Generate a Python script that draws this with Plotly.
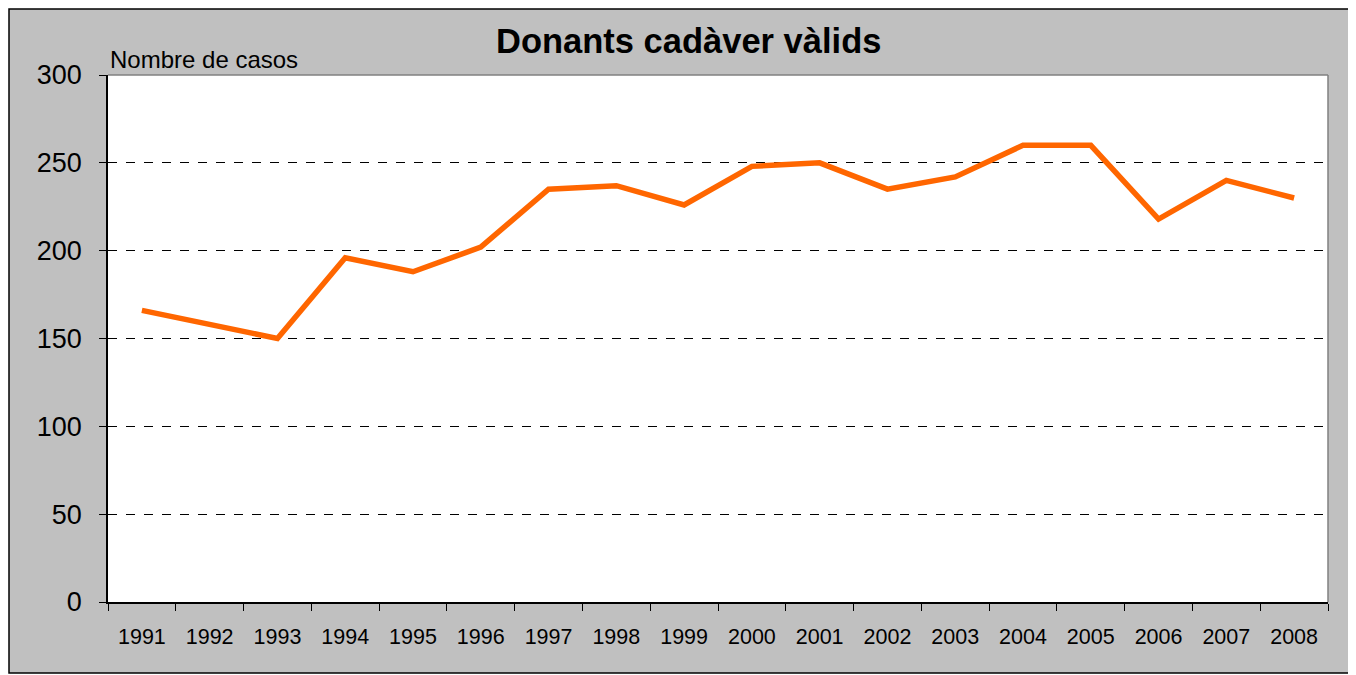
import plotly.graph_objects as go

years = ["1991", "1992", "1993", "1994", "1995", "1996", "1997", "1998", "1999",
         "2000", "2001", "2002", "2003", "2004", "2005", "2006", "2007", "2008"]
donors = [166, 158, 150, 196, 188, 202, 235, 237, 226, 248, 250, 235, 242, 260, 260, 218, 240, 230]
y_ticks = [0, 50, 100, 150, 200, 250, 300]

OFF = 8  # page offset of the figure (body margin)
W, H = 1356 - OFF, 675 - OFF
L, R, T, B = 108 - OFF, 1356 - 1328, 75 - OFF, 675 - 602
pw, ph = W - L - R, H - T - B

def px_x(p):
    return (p - OFF - L) / pw

def px_y(p):
    return (H - B - (p - OFF)) / ph

fig = go.Figure()
fig.add_trace(go.Scatter(
    x=years, y=donors, mode="lines",
    line=dict(color="#FF6600", width=5.5),
    hoverinfo="x+y", showlegend=False,
))

font = "Liberation Sans, Arial, sans-serif"

fig.update_layout(
    width=W, height=H,
    margin=dict(l=L, r=R, t=T, b=B, pad=0),
    paper_bgcolor="white",
    plot_bgcolor="white",
    font=dict(family=font, color="black"),
    xaxis=dict(
        type="category", tickson="boundaries", ticks="outside", ticklen=7,
        tickcolor="black", tickwidth=1, showline=True, linecolor="black", linewidth=1.5,
        showgrid=False, tickfont=dict(size=21.5), ticklabelstandoff=14,
        range=[-0.5, len(years) - 0.5], fixedrange=True,
    ),
    yaxis=dict(
        range=[0, 300], tickvals=y_ticks, ticks="outside", ticklen=7,
        tickcolor="black", tickwidth=1, showline=True, linecolor="black", linewidth=1.5,
        showgrid=True, gridcolor="black", griddash="dash", gridwidth=1,
        zeroline=False, tickfont=dict(size=27), ticklabelstandoff=12, fixedrange=True,
    ),
    shapes=[
        dict(type="rect", xref="paper", yref="paper", layer="below",
             x0=px_x(9), x1=px_x(1370), y0=px_y(673), y1=px_y(9),
             fillcolor="#C0C0C0", line=dict(color="black", width=1.5)),
        dict(type="rect", xref="paper", yref="paper", layer="below",
             x0=0, x1=1, y0=0, y1=1, fillcolor="white", line=dict(width=0)),
        dict(type="line", xref="paper", yref="paper", x0=0, x1=1, y0=1, y1=1,
             line=dict(color="#808080", width=1.5)),
        dict(type="line", xref="paper", yref="paper", x0=1, x1=1, y0=0, y1=1,
             line=dict(color="#808080", width=1.5)),
    ],
    annotations=[
        dict(text="<b>Donants cadàver vàlids</b>", xref="paper", yref="paper",
             x=px_x(688.5), y=px_y(41), xanchor="center", yanchor="middle",
             showarrow=False, font=dict(size=34.5, family=font)),
        dict(text="Nombre de casos", xref="paper", yref="paper",
             x=0, y=px_y(59), xanchor="left", yanchor="middle",
             showarrow=False, font=dict(size=24, family=font)),
    ],
)

fig.write_html("out.html")
